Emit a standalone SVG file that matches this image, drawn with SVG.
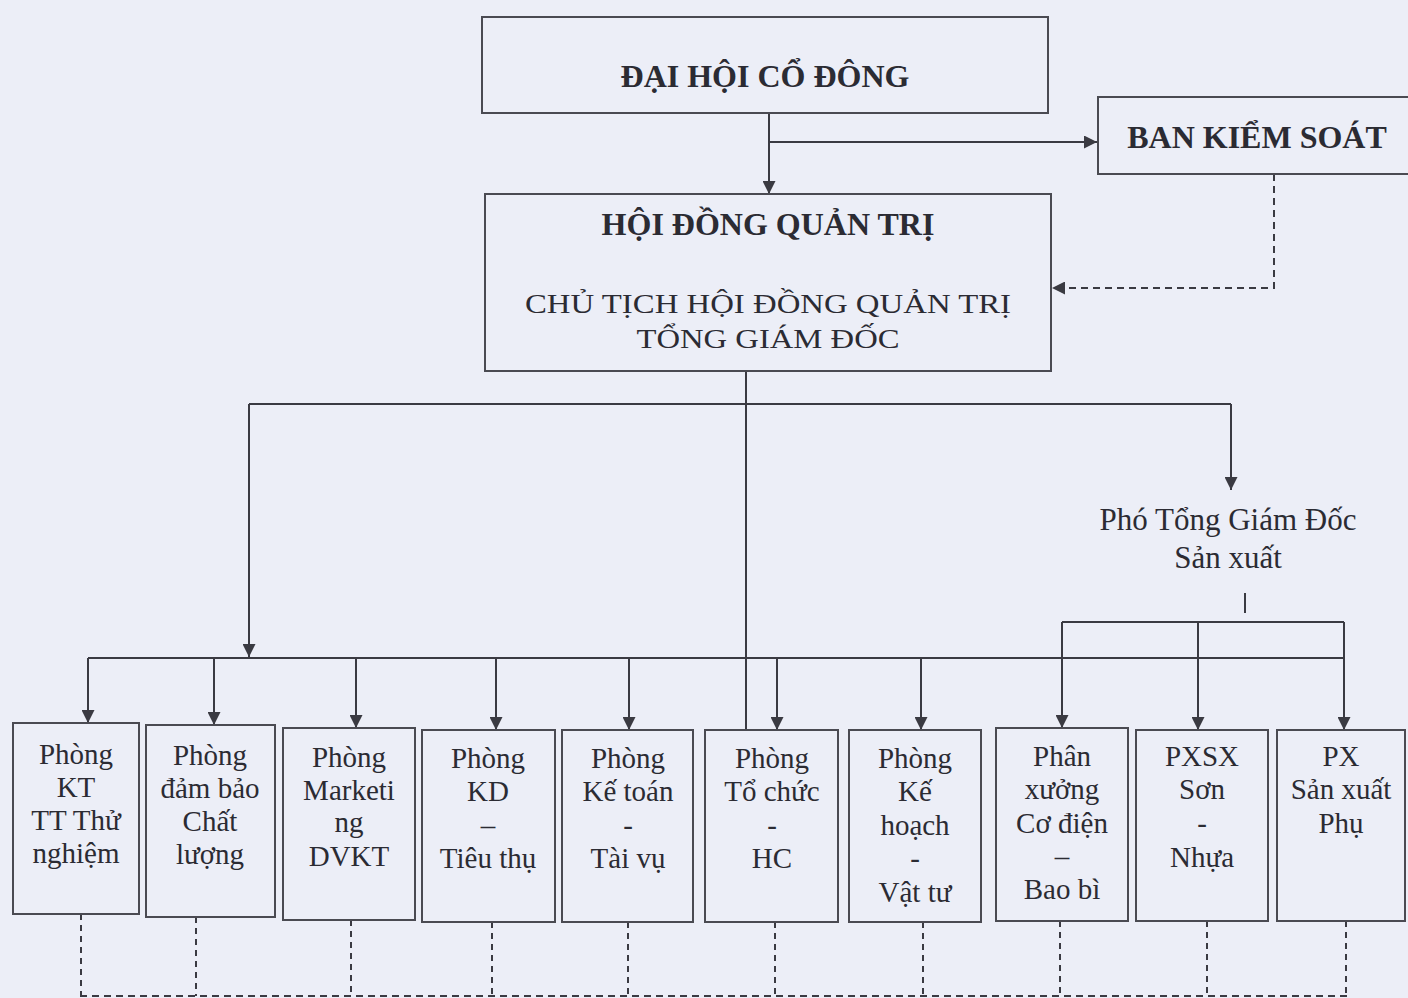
<svg xmlns="http://www.w3.org/2000/svg" width="1408" height="998" viewBox="0 0 1408 998">
<style>
.bg{fill:#eceef7}
.box{fill:none;stroke:#4a4a52;stroke-width:2}
.ln{fill:none;stroke:#3a3a42;stroke-width:2}
.dash{fill:none;stroke:#3a3a42;stroke-width:2;stroke-dasharray:7 5}
.dashv{fill:none;stroke:#3a3a42;stroke-width:2;stroke-dasharray:6 5}
text{font-family:"Liberation Serif","DejaVu Serif",serif;fill:#2b2b33;text-anchor:middle}
.hb{font-size:32px;font-weight:bold}
.hr{font-size:28px}
.t{font-size:29px}
.p{font-size:31px}
</style>
<defs>
<marker id="ah" viewBox="0 0 10 10" refX="10" refY="5" markerWidth="13" markerHeight="13" markerUnits="userSpaceOnUse" orient="auto">
<path d="M0,0 L10,5 L0,10 z" fill="#3a3a42"/>
</marker>
</defs>
<rect class="bg" x="0" y="0" width="1408" height="998"/>

<g id="connectors">
<path class="ln" d="M769,113 V194" marker-end="url(#ah)"/>
<path class="ln" d="M769,142 H1097" marker-end="url(#ah)"/>
<path class="dash" d="M1274,174 V288 H1052" marker-end="url(#ah)"/>
<path class="ln" d="M746,371 V730"/>
<path class="ln" d="M249,404 H1231"/>
<path class="ln" d="M1231,404 V490" marker-end="url(#ah)"/>
<path class="ln" d="M249,404 V657" marker-end="url(#ah)"/>
<path class="ln" d="M88,658 H1344"/>
<path class="ln" d="M88,658 V723" marker-end="url(#ah)"/>
<path class="ln" d="M214,658 V725" marker-end="url(#ah)"/>
<path class="ln" d="M356,658 V728" marker-end="url(#ah)"/>
<path class="ln" d="M496,658 V730" marker-end="url(#ah)"/>
<path class="ln" d="M629,658 V730" marker-end="url(#ah)"/>
<path class="ln" d="M777,658 V730" marker-end="url(#ah)"/>
<path class="ln" d="M921,658 V730" marker-end="url(#ah)"/>
<path class="ln" d="M1245,593 V613"/>
<path class="ln" d="M1062,622 H1344"/>
<path class="ln" d="M1062,622 V728" marker-end="url(#ah)"/>
<path class="ln" d="M1198,622 V730" marker-end="url(#ah)"/>
<path class="ln" d="M1344,622 V730" marker-end="url(#ah)"/>
<path class="dashv" d="M81,914 V996"/>
<path class="dashv" d="M196,917 V996"/>
<path class="dashv" d="M351,920 V996"/>
<path class="dashv" d="M492,922 V996"/>
<path class="dashv" d="M628,922 V996"/>
<path class="dashv" d="M775,922 V996"/>
<path class="dashv" d="M923,922 V996"/>
<path class="dashv" d="M1060,921 V996"/>
<path class="dashv" d="M1207,921 V996"/>
<path class="dashv" d="M1346,921 V996"/>
<path class="dash" d="M80,996 H1347"/>
</g>

<g id="dai-hoi-co-dong">
<rect class="box" x="482" y="17" width="566" height="96"/>
<text class="hb" x="765" y="87">ĐẠI HỘI CỔ ĐÔNG</text>
</g>
<g id="ban-kiem-soat">
<rect class="box" x="1098" y="97" width="320" height="77"/>
<text class="hb" x="1257" y="148">BAN KIỂM SOÁT</text>
</g>
<g id="hoi-dong-quan-tri">
<rect class="box" x="485" y="194" width="566" height="177"/>
<text class="hb" x="768" y="235">HỘI ĐỒNG QUẢN TRỊ</text>
<text class="hr" x="768" y="313" textLength="486" lengthAdjust="spacingAndGlyphs">CHỦ TỊCH HỘI ĐỒNG QUẢN TRỊ</text>
<text class="hr" x="768" y="348" textLength="263" lengthAdjust="spacingAndGlyphs">TỔNG GIÁM ĐỐC</text>
</g>
<g id="pho-tong-giam-doc">
<text class="p" x="1228" y="530">Phó Tổng Giám Đốc</text>
<text class="p" x="1228" y="568">Sản xuất</text>
</g>

<g id="phong-kt">
<rect class="box" x="13" y="723" width="126" height="191"/>
<text class="t" x="76" y="764">Phòng</text>
<text class="t" x="76" y="797">KT</text>
<text class="t" x="76" y="830">TT Thử</text>
<text class="t" x="76" y="863">nghiệm</text>
</g>
<g id="phong-dam-bao">
<rect class="box" x="146" y="725" width="129" height="192"/>
<text class="t" x="210" y="765">Phòng</text>
<text class="t" x="210" y="798">đảm bảo</text>
<text class="t" x="210" y="831">Chất</text>
<text class="t" x="210" y="864">lượng</text>
</g>
<g id="phong-marketing">
<rect class="box" x="283" y="728" width="132" height="192"/>
<text class="t" x="349" y="767">Phòng</text>
<text class="t" x="349" y="800">Marketi</text>
<text class="t" x="349" y="832">ng</text>
<text class="t" x="349" y="866">DVKT</text>
</g>
<g id="phong-kd">
<rect class="box" x="422" y="730" width="133" height="192"/>
<text class="t" x="488" y="768">Phòng</text>
<text class="t" x="488" y="801">KD</text>
<text class="t" x="488" y="835">–</text>
<text class="t" x="488" y="868">Tiêu thụ</text>
</g>
<g id="phong-ke-toan">
<rect class="box" x="562" y="730" width="131" height="192"/>
<text class="t" x="628" y="768">Phòng</text>
<text class="t" x="628" y="801">Kế toán</text>
<text class="t" x="628" y="835">-</text>
<text class="t" x="628" y="868">Tài vụ</text>
</g>
<g id="phong-to-chuc">
<rect class="box" x="705" y="730" width="133" height="192"/>
<text class="t" x="772" y="768">Phòng</text>
<text class="t" x="772" y="801">Tổ chức</text>
<text class="t" x="772" y="835">-</text>
<text class="t" x="772" y="868">HC</text>
</g>
<g id="phong-ke-hoach">
<rect class="box" x="849" y="730" width="132" height="192"/>
<text class="t" x="915" y="768">Phòng</text>
<text class="t" x="915" y="801">Kế</text>
<text class="t" x="915" y="835">hoạch</text>
<text class="t" x="915" y="868">-</text>
<text class="t" x="915" y="902">Vật tư</text>
</g>
<g id="phan-xuong-co-dien">
<rect class="box" x="996" y="728" width="132" height="193"/>
<text class="t" x="1062" y="766">Phân</text>
<text class="t" x="1062" y="799">xưởng</text>
<text class="t" x="1062" y="833">Cơ điện</text>
<text class="t" x="1062" y="866">–</text>
<text class="t" x="1062" y="899">Bao bì</text>
</g>
<g id="pxsx-son-nhua">
<rect class="box" x="1136" y="730" width="132" height="191"/>
<text class="t" x="1202" y="766">PXSX</text>
<text class="t" x="1202" y="799">Sơn</text>
<text class="t" x="1202" y="833">-</text>
<text class="t" x="1202" y="867">Nhựa</text>
</g>
<g id="px-san-xuat-phu">
<rect class="box" x="1277" y="730" width="128" height="191"/>
<text class="t" x="1341" y="766">PX</text>
<text class="t" x="1341" y="799">Sản xuất</text>
<text class="t" x="1341" y="833">Phụ</text>
</g>
</svg>
